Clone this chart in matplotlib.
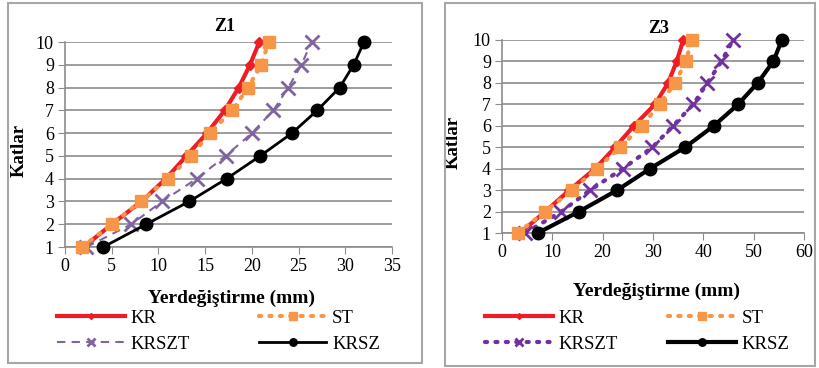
import numpy as np
import matplotlib.pyplot as plt
from matplotlib.patches import Rectangle

plt.rcParams['font.family'] = 'serif'
plt.rcParams['font.serif'] = ['Liberation Serif', 'Times New Roman', 'DejaVu Serif']

floors = [1, 2, 3, 4, 5, 6, 7, 8, 9, 10]

# Z1 displacements (mm)
z1_kr = [2.0, 5.0, 8.2, 10.8, 13.0, 15.2, 17.1, 18.6, 19.8, 20.8]
z1_st = [1.8, 5.0, 8.1, 11.0, 13.5, 15.5, 17.9, 19.6, 21.0, 21.8]
z1_krszt = [2.3, 7.1, 10.4, 14.1, 17.2, 20.0, 22.3, 23.9, 25.3, 26.4]
z1_krsz = [4.1, 8.7, 13.3, 17.3, 20.9, 24.3, 27.0, 29.4, 30.9, 32.0]

# Z3 displacements (mm)
z3_kr = [3.6, 8.6, 13.4, 18.5, 22.5, 26.2, 30.4, 33.0, 34.7, 36.0]
z3_st = [3.1, 8.6, 13.9, 18.8, 23.5, 27.8, 31.3, 34.4, 36.5, 37.7]
z3_krszt = [4.6, 11.8, 17.5, 24.0, 29.9, 34.0, 38.0, 40.8, 43.6, 45.9]
z3_krsz = [7.1, 15.3, 22.9, 29.4, 36.4, 42.1, 46.9, 50.8, 53.9, 55.6]

fig = plt.figure(figsize=(8.19, 3.68), dpi=100)

# panel boxes
fig.patches.append(Rectangle((8/819, 1-363/368), 414/819, 360/368, transform=fig.transFigure,
                             fill=False, ec='#a6a6a6', lw=1.5))
fig.patches.append(Rectangle((445/819, 1-366/368), 370/819, 363/368, transform=fig.transFigure,
                             fill=False, ec='#a6a6a6', lw=1.5))

grid_c = '#8c8c8c'


def setup(ax, xmax, xstep, title, tx, ty, ylx, xly):
    ax.set_xlim(0, xmax)
    ax.set_ylim(1, 10)
    ax.set_xticks(np.arange(0, xmax + 1, xstep))
    ax.set_yticks(floors)
    ax.grid(axis='y', color=grid_c, lw=1.2)
    ax.set_axisbelow(True)
    for s in ['top', 'right']:
        ax.spines[s].set_visible(False)
    for s in ['left', 'bottom']:
        ax.spines[s].set_color(grid_c)
        ax.spines[s].set_linewidth(1.2)
    ax.tick_params(length=5, color=grid_c, labelsize=13, pad=3)
    ax.set_title(title, fontsize=13, fontweight='bold', x=tx, y=ty)
    ax.set_ylabel('Katlar', fontsize=13.5, fontweight='bold')
    ax.yaxis.set_label_coords(ylx, 0.47)
    ax.set_xlabel('Yerdeğiştirme (mm)', fontsize=14, fontweight='bold')
    ax.xaxis.set_label_coords(0.51, xly)


# left panel
ax1 = fig.add_axes([65/819, 1-247/368, 327/819, 205/368])
setup(ax1, 35, 5, 'Z1', 0.489, 1.015, -0.113, -0.21)
h1 = ax1.plot(z1_kr, floors, color='#ee1c25', lw=3, marker='D', ms=5, clip_on=False, label='KR', zorder=3)
h2 = ax1.plot(z1_krszt, floors, color='#8064a2', lw=1.5, ls=(0, (4, 3)), marker='x', ms=10, mew=2,
              clip_on=False, label='KRSZT', zorder=3)
h3 = ax1.plot(z1_st, floors, color='#f79646', lw=3, ls=(0, (0.5, 2)), dash_capstyle='round',
              marker='s', ms=9, clip_on=False, label='ST', zorder=4)
h4 = ax1.plot(z1_krsz, floors, color='black', lw=2, marker='o', ms=9, clip_on=False, label='KRSZ', zorder=3)
ax1.legend(handles=[h1[0], h2[0], h3[0], h4[0]], ncol=2, frameon=False, fontsize=13.5,
           loc='center left', bbox_to_anchor=(50/819 - 0.012, 0.1), bbox_transform=fig.transFigure,
           handlelength=3.6, columnspacing=3.7, handletextpad=0.3, labelspacing=0.45, markerscale=0.6)

# right panel
ax2 = fig.add_axes([502/819, 1-233/368, 302/819, 193/368])
setup(ax2, 60, 10, 'Z3', 0.517, 0.995, -0.132, -0.26)
g1 = ax2.plot(z3_kr, floors, color='#ee1c25', lw=3, marker='D', ms=5, clip_on=False, label='KR', zorder=3)
g2 = ax2.plot(z3_krszt, floors, color='#7030a0', lw=3, ls=(0, (0.5, 2)), dash_capstyle='round',
              marker='x', ms=10, mew=2, clip_on=False, label='KRSZT', zorder=3)
g3 = ax2.plot(z3_st, floors, color='#f79646', lw=3, ls=(0, (0.5, 2)), dash_capstyle='round',
              marker='s', ms=9, clip_on=False, label='ST', zorder=4)
g4 = ax2.plot(z3_krsz, floors, color='black', lw=3, marker='o', ms=9, clip_on=False, label='KRSZ', zorder=3)
ax2.legend(handles=[g1[0], g2[0], g3[0], g4[0]], ncol=2, frameon=False, fontsize=13.5,
           loc='center left', bbox_to_anchor=(478/819 - 0.012, 0.1), bbox_transform=fig.transFigure,
           handlelength=3.6, columnspacing=2.7, handletextpad=0.3, labelspacing=0.45, markerscale=0.6)

fig.savefig('out.png', dpi=100)
